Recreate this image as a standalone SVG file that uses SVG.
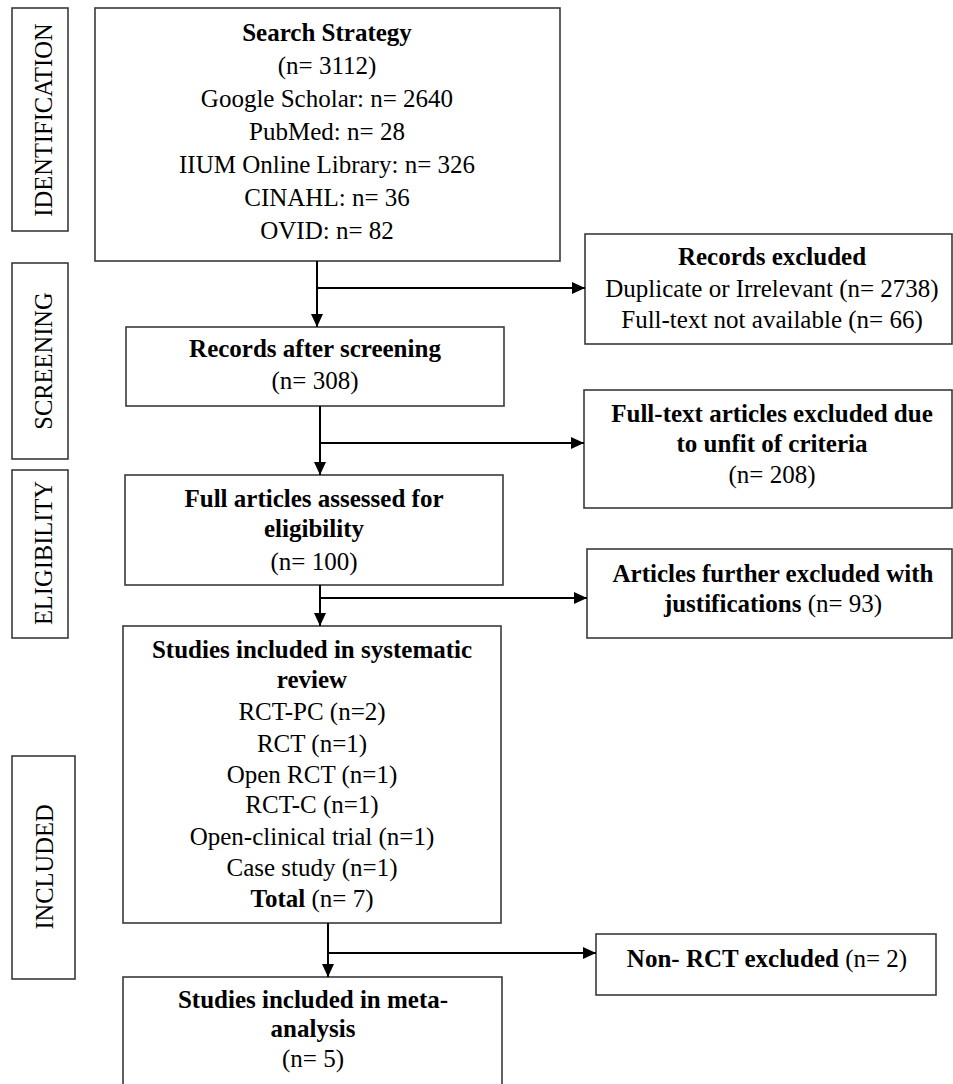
<svg xmlns="http://www.w3.org/2000/svg" width="953" height="1084" viewBox="0 0 953 1084">
<style>
text{font-family:"Liberation Serif","Times New Roman",serif;font-size:25px;fill:#000;text-anchor:middle}
.b{font-weight:bold}
.box{fill:#fff;stroke:#3a3a3a;stroke-width:1.6}
.con{fill:none;stroke:#000;stroke-width:2}
.lab{font-size:24.5px}
</style>
<defs>
<marker id="ah" markerUnits="userSpaceOnUse" markerWidth="14" markerHeight="12" refX="13" refY="6" orient="auto"><path d="M0,0 L13,6 L0,12 z" fill="#000"/></marker>
</defs>
<rect width="953" height="1084" fill="#fff"/>
<g id="lbl-identification"><rect class="box" x="12" y="8" width="56" height="223"/><text class="lab" transform="translate(52,120) rotate(-90)">IDENTIFICATION</text></g>
<g id="lbl-screening"><rect class="box" x="12" y="263" width="56" height="196"/><text class="lab" transform="translate(52,361) rotate(-90)">SCREENING</text></g>
<g id="lbl-eligibility"><rect class="box" x="12" y="470" width="56" height="168"/><text class="lab" transform="translate(52,553) rotate(-90)">ELIGIBILITY</text></g>
<g id="lbl-included"><rect class="box" x="12" y="756" width="63" height="223"/><text class="lab" transform="translate(53,867) rotate(-90)">INCLUDED</text></g>

<g id="search"><rect class="box" x="95" y="8" width="465" height="253"/>
<text x="327" y="41" class="b">Search Strategy</text>
<text x="327" y="74">(n= 3112)</text>
<text x="327" y="107">Google Scholar: n= 2640</text>
<text x="327" y="140">PubMed: n= 28</text>
<text x="327" y="173">IIUM Online Library: n= 326</text>
<text x="327" y="206">CINAHL: n= 36</text>
<text x="327" y="239">OVID: n= 82</text></g>

<g id="rec-excluded"><rect class="box" x="585" y="234" width="367" height="110"/>
<text x="772" y="265" class="b">Records excluded</text>
<text x="772" y="297">Duplicate or Irrelevant (n= 2738)</text>
<text x="772" y="328">Full-text not available (n= 66)</text></g>

<g id="rec-screen"><rect class="box" x="126" y="327" width="378" height="79"/>
<text x="315" y="357" class="b">Records after screening</text>
<text x="315" y="389">(n= 308)</text></g>

<g id="ft-excluded"><rect class="box" x="584" y="390" width="368" height="118"/>
<text x="772" y="422" class="b">Full-text articles excluded due</text>
<text x="772" y="452" class="b">to unfit of criteria</text>
<text x="772" y="483">(n= 208)</text></g>

<g id="full-assessed"><rect class="box" x="125" y="475" width="378" height="110"/>
<text x="314" y="507" class="b">Full articles assessed for</text>
<text x="314" y="537" class="b">eligibility</text>
<text x="314" y="570">(n= 100)</text></g>

<g id="further-excluded"><rect class="box" x="587" y="549" width="365" height="89"/>
<text x="773" y="582" class="b">Articles further excluded with</text>
<text x="773" y="612"><tspan class="b">justifications</tspan> (n= 93)</text></g>

<g id="systematic"><rect class="box" x="123" y="626" width="378" height="297"/>
<text x="312" y="658" class="b">Studies included in systematic</text>
<text x="312" y="688" class="b">review</text>
<text x="312" y="720">RCT-PC (n=2)</text>
<text x="312" y="752">RCT (n=1)</text>
<text x="312" y="783">Open RCT (n=1)</text>
<text x="312" y="813">RCT-C (n=1)</text>
<text x="312" y="845">Open-clinical trial (n=1)</text>
<text x="312" y="876">Case study (n=1)</text>
<text x="312" y="907"><tspan class="b">Total</tspan> (n= 7)</text></g>

<g id="non-rct"><rect class="box" x="596" y="934" width="340" height="61"/>
<text x="767" y="967"><tspan class="b">Non- RCT excluded</tspan> (n= 2)</text></g>

<g id="meta"><rect class="box" x="123" y="977" width="379" height="130"/>
<text x="313" y="1008" class="b">Studies included in meta-</text>
<text x="313" y="1037" class="b">analysis</text>
<text x="313" y="1067">(n= 5)</text></g>

<g id="connectors">
<path class="con" d="M317,261 V327" marker-end="url(#ah)"/>
<path class="con" d="M317,288 H585" marker-end="url(#ah)"/>
<path class="con" d="M320,406 V475" marker-end="url(#ah)"/>
<path class="con" d="M320,443 H584" marker-end="url(#ah)"/>
<path class="con" d="M320,585 V626" marker-end="url(#ah)"/>
<path class="con" d="M320,598 H587" marker-end="url(#ah)"/>
<path class="con" d="M328,923 V977" marker-end="url(#ah)"/>
<path class="con" d="M328,953 H596" marker-end="url(#ah)"/>
</g>
</svg>
